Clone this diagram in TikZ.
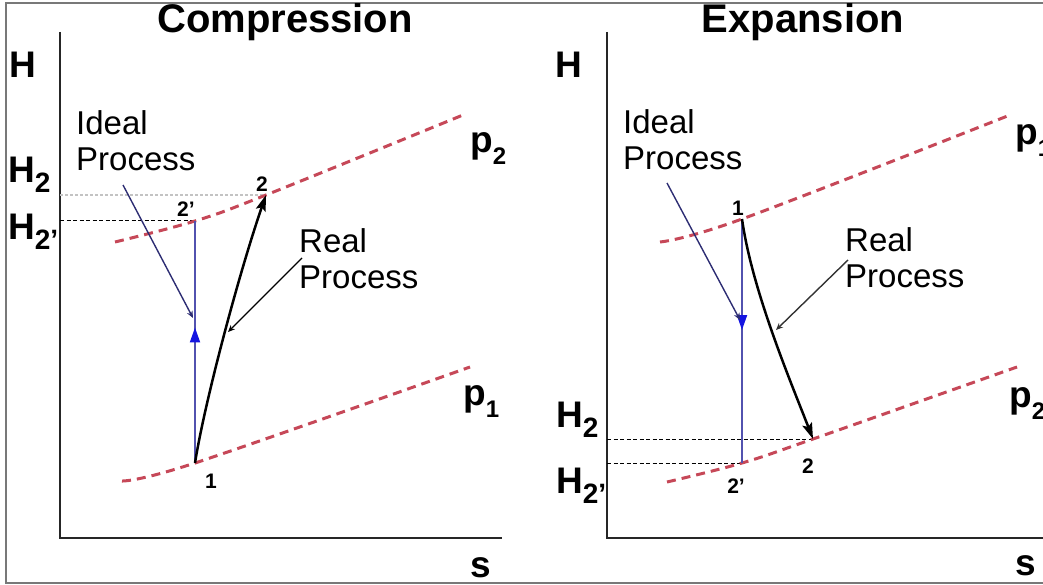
\documentclass[tikz,border=0pt]{standalone}
\usepackage{fontspec}
\setmainfont{Liberation Sans}
\usetikzlibrary{arrows.meta,decorations.markings}
\definecolor{pred}{RGB}{198,72,88}
\definecolor{idealline}{RGB}{82,82,175}
\definecolor{idealtip}{RGB}{20,20,225}
\definecolor{pointernavy}{RGB}{45,45,115}
\definecolor{framegray}{RGB}{120,120,120}
\definecolor{dotgray}{RGB}{195,195,195}
\newcommand\Hsubx[2]{#1\raisebox{-10pt}{\fontsize{28}{28}\selectfont #2}}
\newcommand\psubx[2]{#1\raisebox{-12pt}{\fontsize{24}{24}\selectfont #2}}
\begin{document}
\begin{tikzpicture}[x=1pt,y=-1pt,
  title/.style={font=\fontsize{40}{40}\selectfont\bfseries, inner sep=0pt, anchor=base},
  axlabel/.style={font=\fontsize{37}{37}\selectfont\bfseries, inner sep=0pt, anchor=base west},
  ptlabel/.style={font=\fontsize{21}{21}\selectfont\bfseries, inner sep=0pt, anchor=base},
  proclabel/.style={font=\fontsize{33}{36}\selectfont, inner sep=0pt, anchor=north west, align=left},
  pcurve/.style={draw=pred, line width=3pt, dash pattern=on 9pt off 6pt},
  axis/.style={draw=black!85, line width=2.5pt},
  ideal/.style={draw=idealline, line width=2pt},
  real/.style={draw=black, line width=2.5pt, -{Stealth[length=16pt,width=10pt,inset=3pt]}},
  pointer/.style={line width=1.4pt, -{Stealth[length=7pt,width=6pt]}},
  hlevel/.style={draw=black, line width=1pt, dash pattern=on 4pt off 2.5pt},
  hdot/.style={draw=dotgray, line width=2pt, dash pattern=on 2.5pt off 2.5pt},
  frame/.style={draw=framegray, line width=2pt}
]
\useasboundingbox (0,0) rectangle (1043,585);
\draw[frame] (6,3) rectangle (1052,583);

% ---------- coordinates ----------
\coordinate (LYtop) at (60,32);
\coordinate (LOrig) at (60,538);
\coordinate (LXend) at (502,538);
\coordinate (RYtop) at (607,32);
\coordinate (ROrig) at (607,538);
\coordinate (RXend) at (1052,538);

\coordinate (L1) at (195,463);
\coordinate (L2p) at (195,221);
\coordinate (L2) at (266,195);
\coordinate (R1) at (742,219);
\coordinate (R2p) at (742,463);
\coordinate (R2) at (813,439);

\coordinate (Lp2a) at (115,242);
\coordinate (Lp2b) at (463,115);
\coordinate (Lp1a) at (122,481);
\coordinate (Lp1b) at (470,367);
\coordinate (Rp1a) at (660,242);
\coordinate (Rp1b) at (1010,115);
\coordinate (Rp2a) at (667,482);
\coordinate (Rp2b) at (1017,367);

\coordinate (LidealS) at (123,185);
\coordinate (LidealE) at (193,318);
\coordinate (LrealS) at (302,258);
\coordinate (LrealE) at (228,332);
\coordinate (RidealS) at (667,183);
\coordinate (RidealE) at (740,320);
\coordinate (RrealS) at (848,260);
\coordinate (RrealE) at (776,330);

% ---------- axes ----------
\draw[axis] (LYtop) -- (LOrig) -- (LXend);
\draw[axis] (RYtop) -- (ROrig) -- (RXend);

% ---------- H levels ----------
\draw[hdot] (LYtop |- L2) -- (L2);
\draw[hlevel] (LYtop |- L2p) -- (L2p);
\draw[hlevel] (RYtop |- R2) -- (R2);
\draw[hlevel] (RYtop |- R2p) -- (R2p);

% ---------- isobars ----------
\draw[pcurve] plot[smooth, tension=0.6] coordinates {(Lp2a) (L2p) (L2) (Lp2b)};
\draw[pcurve] plot[smooth, tension=0.6] coordinates {(Lp1a) (L1) (Lp1b)};
\draw[pcurve] plot[smooth, tension=0.6] coordinates {(Rp1a) (R1) (Rp1b)};
\draw[pcurve] plot[smooth, tension=0.6] coordinates {(Rp2a) (R2p) (R2) (Rp2b)};

% ---------- ideal processes ----------
\draw[ideal, postaction={decorate}, decoration={markings, mark=at position 0.56 with {\arrow{Triangle[length=15pt,width=10pt,color=idealtip]}}}] (L1) -- (L2p);
\draw[ideal, postaction={decorate}, decoration={markings, mark=at position 0.455 with {\arrow{Triangle[length=15pt,width=10pt,color=idealtip]}}}] (R1) -- (R2p);

% ---------- real processes ----------
\draw[real] (L1) .. controls (205,400) and (240,270) .. (L2);
\draw[real] (R1) .. controls (752,290) and (790,380) .. (R2);

% ---------- pointers ----------
\draw[pointer, draw=pointernavy, color=pointernavy] (LidealS) -- (LidealE);
\draw[pointer, draw=black] (LrealS) -- (LrealE);
\draw[pointer, draw=pointernavy, color=pointernavy] (RidealS) -- (RidealE);
\draw[pointer, draw=black!80] (RrealS) -- (RrealE);

% ---------- titles ----------
\node[title] (tC) at (285,33) {Compression};
\node[title] (tE) at (803,33) {Expansion};

% ---------- axis labels ----------
\node[axlabel] (LH) at (9,78) {H};
\node[axlabel] (LH2) at (8,183) {\Hsubx{H}{2}};
\node[axlabel] (LH2p) at (8,240) {\Hsubx{H}{2’}};
\node[axlabel] (RH) at (555,78) {H};
\node[axlabel] (RH2) at (556,427) {\Hsubx{H}{2}};
\node[axlabel] (RH2p) at (556,493) {\Hsubx{H}{2’}};

\node[axlabel] (Lp2) at (470,153) {\psubx{p}{2}};
\node[axlabel] (Lp1) at (463,405) {\psubx{p}{1}};
\node[axlabel] (Rp1) at (1015,145) {\psubx{p}{1}};
\node[axlabel] (Rp2) at (1009,407) {\psubx{p}{2}};

\node[axlabel] (Ls) at (470,577) {s};
\node[axlabel] (Rs) at (1015,575) {s};

% ---------- point labels ----------
\node[ptlabel] (lab1L) at (211,488) {1};
\node[ptlabel] (lab2pL) at (186,217) {2’};
\node[ptlabel] (lab2L) at (262,192) {2};
\node[ptlabel] (lab1R) at (738,216) {1};
\node[ptlabel] (lab2R) at (808,473) {2};
\node[ptlabel] (lab2pR) at (736,493) {2’};

% ---------- process labels ----------
\node[proclabel] (idealL) at (76,110) {Ideal\\Process};
\node[proclabel] (realL) at (299,228) {Real\\Process};
\node[proclabel] (idealR) at (623,109) {Ideal\\Process};
\node[proclabel] (realR) at (845,227) {Real\\Process};
\end{tikzpicture}
\end{document}
